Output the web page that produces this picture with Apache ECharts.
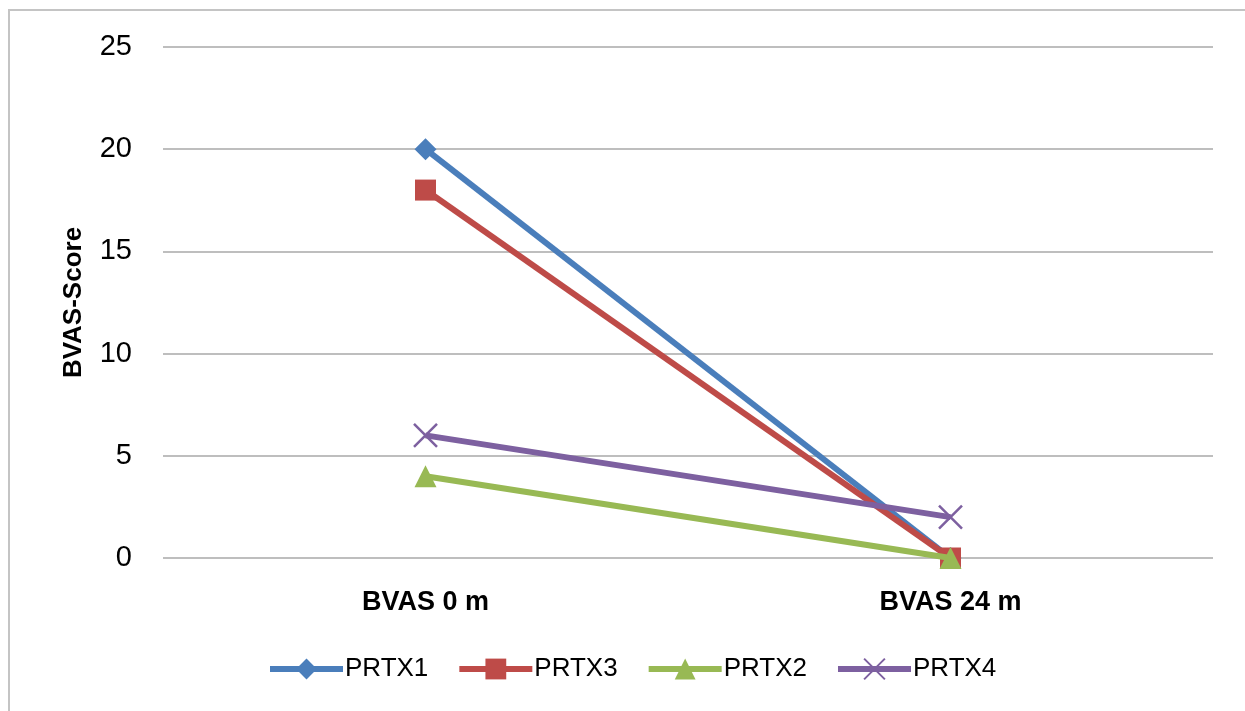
<!DOCTYPE html>
<html>
<head>
<meta charset="utf-8">
<script src="https://cdn.jsdelivr.net/npm/echarts@6/dist/echarts.min.js"></script>
<style>
  html, body { margin: 0; padding: 0; background: #fff; }
  #chart { width: 1245px; height: 711px; }
</style>
</head>
<body>
<div id="chart"></div>
<script>
// BVAS scores at baseline and after 24 months
const categories = ['BVAS 0 m', 'BVAS 24 m'];
const seriesNames = ['PRTX1', 'PRTX3', 'PRTX2', 'PRTX4'];
const prtx1 = [20, 0];
const prtx3 = [18, 0];
const prtx2 = [4, 0];
const prtx4 = [6, 2];
const yTicks = { min: 0, max: 25, interval: 5 };

const colors = ['#4A7EBB', '#BE4B48', '#98B954', '#7D60A0'];
const symbols = ['diamond', 'rect', 'triangle', 'path://M0,0L10,10M10,0L0,10'];
const symbolSizes = [22, 21, 22, 23];
const values = [prtx1, prtx3, prtx2, prtx4];

const font = '"Liberation Sans", "Noto Sans", sans-serif';

const chart = echarts.init(document.getElementById('chart'), null, { renderer: 'canvas' });

const series = seriesNames.map((name, i) => {
  const isCross = i === 3;
  return {
    name,
    type: 'line',
    data: values[i],
    symbol: symbols[i],
    symbolSize: symbolSizes[i],
    showAllSymbol: true,
    lineStyle: { color: colors[i], width: 6 },
    itemStyle: isCross
      ? { color: 'rgba(0,0,0,0)', borderColor: colors[i], borderWidth: 2.5 }
      : { color: colors[i], borderWidth: 0 },
    emphasis: { disabled: true },
    z: 2 + i
  };
});

chart.setOption({
  animation: false,
  backgroundColor: '#ffffff',
  color: colors,
  graphic: [{
    type: 'rect',
    shape: { x: 9, y: 10, width: 1300, height: 800 },
    style: { fill: 'none', stroke: '#c4c4c4', lineWidth: 2 },
    silent: true,
    z: -1
  }],
  grid: { left: 163, right: 32, top: 47, bottom: 153, containLabel: false },
  xAxis: {
    type: 'category',
    data: categories,
    boundaryGap: true,
    axisLine: { show: false },
    axisTick: { show: false },
    axisLabel: {
      margin: 31,
      color: '#000',
      fontFamily: font,
      fontWeight: 'bold',
      fontSize: 27
    }
  },
  yAxis: {
    type: 'value',
    min: yTicks.min,
    max: yTicks.max,
    interval: yTicks.interval,
    name: 'BVAS-Score',
    nameLocation: 'middle',
    nameGap: 76,
    nameRotate: 90,
    nameTextStyle: { color: '#000', fontFamily: font, fontWeight: 'bold', fontSize: 26 },
    axisLine: { show: false },
    axisTick: { show: false },
    axisLabel: { margin: 31, color: '#000', fontFamily: font, fontSize: 29 },
    splitLine: { lineStyle: { color: '#BEBEBE', width: 2 } }
  },
  legend: {
    bottom: 24,
    left: 262,
    itemWidth: 73,
    itemHeight: 26,
    itemGap: 28,
    lineStyle: { width: 6 },
    textStyle: { color: '#000', fontFamily: font, fontSize: 26, padding: [0, 0, 0, -3] },
    data: seriesNames
  },
  series
});
</script>
</body>
</html>
